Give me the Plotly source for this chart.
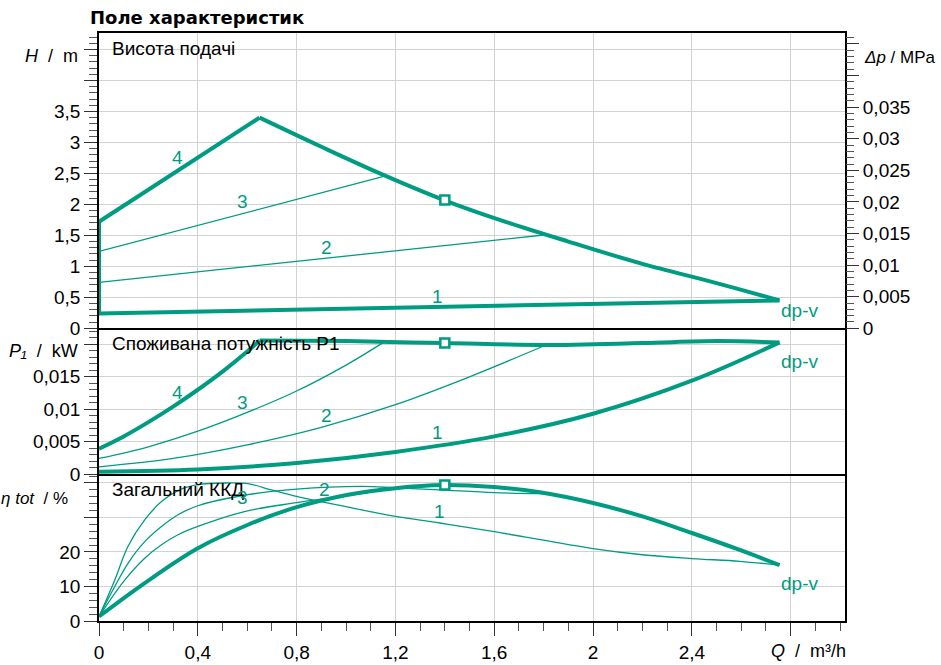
import plotly.graph_objects as go

TEAL = "#009C82"
FONT = "Liberation Sans"

# ---------------- data ----------------
# Top panel: delivery head H [m] vs Q [m3/h]
Q_h1 = [0.0, 1.38, 2.755]
H_h1 = [0.24, 0.345, 0.45]
Q_hedge = [0.0, 0.0]
H_hedge = [0.24, 1.72]
Q_h4 = [0.0, 0.65]
H_h4 = [1.72, 3.40]
Q_henv = [0.65, 0.9, 1.137, 1.396, 1.622, 1.9, 2.2, 2.5, 2.755]
H_henv = [3.40, 2.93, 2.50, 2.07, 1.75, 1.40, 1.04, 0.73, 0.45]
Q_h2 = [0.0, 1.81]
H_h2 = [0.74, 1.51]
Q_h3 = [0.0, 1.16]
H_h3 = [1.24, 2.46]

# Middle panel: power input P1 [kW]
Q_p4 = [0.0, 0.1, 0.2, 0.3, 0.4, 0.5, 0.6, 0.65]
P_p4 = [0.0039, 0.0058, 0.0080, 0.0104, 0.0130, 0.0158, 0.0189, 0.0206]
Q_penv = [0.65, 1.0, 1.4, 1.8, 2.2, 2.5, 2.755]
P_penv = [0.0206, 0.0205, 0.0202, 0.0199, 0.0202, 0.0205, 0.0203]
Q_p3 = [0.0, 0.2, 0.4, 0.6, 0.8, 1.0, 1.16]
P_p3 = [0.0024, 0.0042, 0.0066, 0.0095, 0.0128, 0.0168, 0.0205]
Q_p2 = [0.0, 0.3, 0.6, 0.9, 1.2, 1.5, 1.81]
P_p2 = [0.0011, 0.0024, 0.0045, 0.0072, 0.0107, 0.0150, 0.0199]
Q_p1 = [0.0, 0.4, 0.8, 1.2, 1.6, 2.0, 2.4, 2.755]
P_p1 = [0.00036, 0.0007, 0.0017, 0.0034, 0.0058, 0.0093, 0.0144, 0.0203]

# Bottom panel: total efficiency eta [%]
Q_e4 = [0.0, 0.185, 0.4, 0.603, 0.8, 1.008, 1.2, 1.393, 1.6, 1.784, 2.0, 2.2, 2.4, 2.594, 2.755]
E_e4 = [1.3, 11.0, 21.1, 27.9, 33.0, 36.6, 38.5, 39.4, 38.8, 37.3, 34.2, 30.3, 25.5, 20.6, 16.2]
Q_e1 = [0.0, 0.064, 0.117, 0.185, 0.253, 0.32, 0.4, 0.522, 0.603, 0.698, 0.8, 0.995,
        1.2, 1.38, 1.6, 2.0, 2.2, 2.4, 2.594, 2.755]
E_e1 = [1.3, 11.9, 21.6, 29.3, 34.6, 37.8, 39.5, 40.0, 39.8, 38.0, 36.1, 33.2,
        30.3, 28.4, 25.9, 21.0, 19.2, 18.1, 17.3, 16.2]
Q_e2 = [0.0, 0.06, 0.118, 0.185, 0.253, 0.32, 0.4, 0.577, 0.8, 1.062, 1.2, 1.38, 1.6, 1.81]
E_e2 = [1.3, 9.5, 16.8, 23.0, 27.4, 30.8, 33.4, 36.3, 38.2, 39.0, 38.6, 38.0, 37.2, 36.9]
Q_e3 = [0.0, 0.1, 0.185, 0.253, 0.32, 0.4, 0.589, 0.8, 1.062, 1.16]
E_e3 = [1.3, 11.5, 18.2, 22.1, 25.0, 27.4, 31.7, 34.3, 36.9, 38.0]

# Duty point markers
Q_mark = [1.4]
H_mark = [2.07]
P_mark = [0.0202]
E_mark = [39.4]

# Tick labels
x_tickvals = [0, 0.4, 0.8, 1.2, 1.6, 2.0, 2.4, 2.8]
x_ticktext = ["0", "0,4", "0,8", "1,2", "1,6", "2", "2,4", ""]
h_tickvals = [0, 0.5, 1, 1.5, 2, 2.5, 3, 3.5, 4, 4.5]
h_ticktext = ["0", "0,5", "1", "1,5", "2", "2,5", "3", "3,5", "", ""]
dp_tickvals = [0, 0.005, 0.01, 0.015, 0.02, 0.025, 0.03, 0.035, 0.04, 0.045]
dp_ticktext = ["0", "0,005", "0,01", "0,015", "0,02", "0,025", "0,03", "0,035", "", ""]
p_tickvals = [0, 0.005, 0.01, 0.015, 0.02]
p_ticktext = ["0", "0,005", "0,01", "0,015", ""]
e_tickvals = [0, 10, 20, 30, 40]
e_ticktext = ["0", "10", "20", "", ""]

# Axis ranges
X_MAX = 3.02
H_MAX = 4.766
P_MAX = 0.02248
E_MAX = 42.6
M_PER_MPA = 101.97

# ---------------- figure ----------------
fig = go.Figure()

def line(qs, vs, xa, ya, w, shape="spline"):
    fig.add_trace(go.Scatter(x=qs, y=vs, xaxis=xa, yaxis=ya, mode="lines",
                             line=dict(color=TEAL, width=w, shape=shape),
                             hoverinfo="skip", showlegend=False))

THICK = 4
THIN = 1.3

# top
line(Q_h2, H_h2, "x3", "y", THIN, "linear")
line(Q_h3, H_h3, "x3", "y", THIN, "linear")
line(Q_h1, H_h1, "x3", "y", THICK, "linear")
line(Q_hedge, H_hedge, "x3", "y", THICK, "linear")
line(Q_h4, H_h4, "x3", "y", THICK, "linear")
line(Q_henv, H_henv, "x3", "y", THICK)
# middle
line(Q_p3, P_p3, "x2", "y2", THIN)
line(Q_p2, P_p2, "x2", "y2", THIN)
line(Q_p4, P_p4, "x2", "y2", THICK)
line(Q_penv, P_penv, "x2", "y2", THICK)
line(Q_p1, P_p1, "x2", "y2", THICK)
# bottom
line(Q_e1, E_e1, "x", "y3", THIN)
line(Q_e2, E_e2, "x", "y3", THIN)
line(Q_e3, E_e3, "x", "y3", THIN)
line(Q_e4, E_e4, "x", "y3", THICK)

for xa, ya, vals in (("x3", "y", H_mark), ("x2", "y2", P_mark), ("x", "y3", E_mark)):
    fig.add_trace(go.Scatter(x=Q_mark, y=vals, xaxis=xa, yaxis=ya, mode="markers",
                             marker=dict(symbol="square", size=9, color="white",
                                         line=dict(color=TEAL, width=2.5)),
                             hoverinfo="skip", showlegend=False))

# invisible trace for the right axis
fig.add_trace(go.Scatter(x=[0], y=[0], xaxis="x3", yaxis="y4", mode="markers",
                         marker=dict(opacity=0), hoverinfo="skip", showlegend=False))

TOP_DOM = [0.4978, 1.0]
MID_DOM = [0.25, 0.4978]
BOT_DOM = [0.0, 0.25]

grid = "#d2d2d2"
tickfont = dict(family=FONT, size=19, color="black")

def xaxis_common(**kw):
    d = dict(range=[0, X_MAX], tickmode="array", tickvals=x_tickvals, ticktext=x_ticktext,
             showgrid=True, gridcolor=grid, gridwidth=1, zeroline=False,
             showline=True, linecolor="black", linewidth=1.5, mirror=False,
             tickfont=tickfont, automargin=False)
    d.update(kw)
    return d

def yaxis_common(rng, tv, tt, mdt, dom, anchor, **kw):
    d = dict(range=rng, domain=dom, anchor=anchor, tickmode="array", tickvals=tv, ticktext=tt,
             showgrid=True, gridcolor=grid, gridwidth=1, zeroline=False,
             showline=True, linecolor="black", linewidth=1.5, mirror=True,
             ticks="outside", ticklen=13, tickcolor="#333", tickwidth=1.2,
             minor=dict(tickmode="linear", tick0=0, dtick=mdt, ticks="outside", ticklen=8,
                        tickcolor="#555", tickwidth=1, showgrid=False),
             tickfont=tickfont, automargin=False)
    d.update(kw)
    return d

fig.update_layout(
    width=941, height=665, autosize=False,
    margin=dict(l=99, r=96, t=33, b=44, pad=0, autoexpand=False),
    plot_bgcolor="white", paper_bgcolor="white",
    font=dict(family=FONT, size=19, color="black"),
    xaxis=xaxis_common(anchor="y3", domain=[0, 1], ticks="outside", ticklen=13,
                       tickcolor="#333", tickwidth=1.2,
                       minor=dict(tickmode="linear", tick0=0, dtick=0.1, ticks="outside",
                                  ticklen=8, tickcolor="#555", tickwidth=1, showgrid=False)),
    xaxis2=xaxis_common(anchor="y2", matches="x", showticklabels=False, ticks=""),
    xaxis3=xaxis_common(anchor="y", matches="x", showticklabels=False, ticks="", mirror=True),
    yaxis=yaxis_common([0, H_MAX], h_tickvals, h_ticktext, 0.1, TOP_DOM, "x3"),
    yaxis2=yaxis_common([0, P_MAX], p_tickvals, p_ticktext, 0.001, MID_DOM, "x2"),
    yaxis3=yaxis_common([0, E_MAX], e_tickvals, e_ticktext, 2, BOT_DOM, "x"),
    yaxis4=dict(range=[0, H_MAX / M_PER_MPA], overlaying="y", side="right", anchor="x3",
                tickmode="array", tickvals=dp_tickvals, ticktext=dp_ticktext,
                showgrid=False, zeroline=False, showline=False,
                ticks="outside", ticklen=13, tickcolor="#333", tickwidth=1.2,
                minor=dict(tickmode="linear", tick0=0, dtick=0.001, ticks="outside",
                           ticklen=8, tickcolor="#555", tickwidth=1),
                tickfont=tickfont, automargin=False),
)

ann = []
def text(x, y, s, xref, yref, xanchor="center", color="black", size=19, family=FONT):
    ann.append(dict(x=x, y=y, xref=xref, yref=yref, text=s, showarrow=False,
                    xanchor=xanchor, yanchor="middle",
                    font=dict(family=family, size=size, color=color)))

# title
text(-0.0147, 1.027, "<b>Поле характеристик</b>", "paper", "paper", "left",
     size=18, family="DejaVu Sans")
# panel captions
text(0.043, 4.51, "Висота подачі", "x3", "y", "left")
text(0.043, 0.0202, "Споживана потужність P1", "x2", "y2", "left")
text(0.043, 38.0, "Загальний ККД", "x", "y3", "left")
# axis titles
text(-0.0255, 4.40, "<i>H</i>  /  m", "paper", "y", "right", size=18)
text(1.0228, 4.37, "<i>Δp</i> / MPa", "paper", "y", "left", size=17)
text(-0.0255, 0.0189, "<i>P₁</i>  /  kW", "paper", "y2", "right", size=18)
text(-0.0389, 35.4, "<i>η tot</i>  / %", "paper", "y3", "right", size=17)
text(1.004, -0.051, "<i>Q</i>  /  m³/h", "paper", "paper", "right", size=18)

# curve labels
for q, v, s in ((0.319, 2.75, "4"), (0.582, 2.04, "3"), (0.922, 1.30, "2"),
                (1.371, 0.52, "1"), (2.837, 0.28, "dp-v")):
    text(q, v, s, "x3", "y", color=TEAL)
for q, v, s in ((0.319, 0.0125, "4"), (0.582, 0.01096, "3"), (0.922, 0.0091, "2"),
                (1.371, 0.00633, "1"), (2.837, 0.01728, "dp-v")):
    text(q, v, s, "x2", "y2", color=TEAL)
for q, v, s in ((0.582, 35.65, "3"), (0.914, 37.97, "2"), (1.379, 31.6, "1"),
                (2.837, 11.0, "dp-v")):
    text(q, v, s, "x", "y3", color=TEAL)

fig.update_layout(annotations=ann)

# remove the default page margin so the 941x665 figure fills the window exactly
fig.write_html("out.html", config={"displayModeBar": False},
               post_script="document.body.style.margin='0';document.body.style.overflow='hidden';")
